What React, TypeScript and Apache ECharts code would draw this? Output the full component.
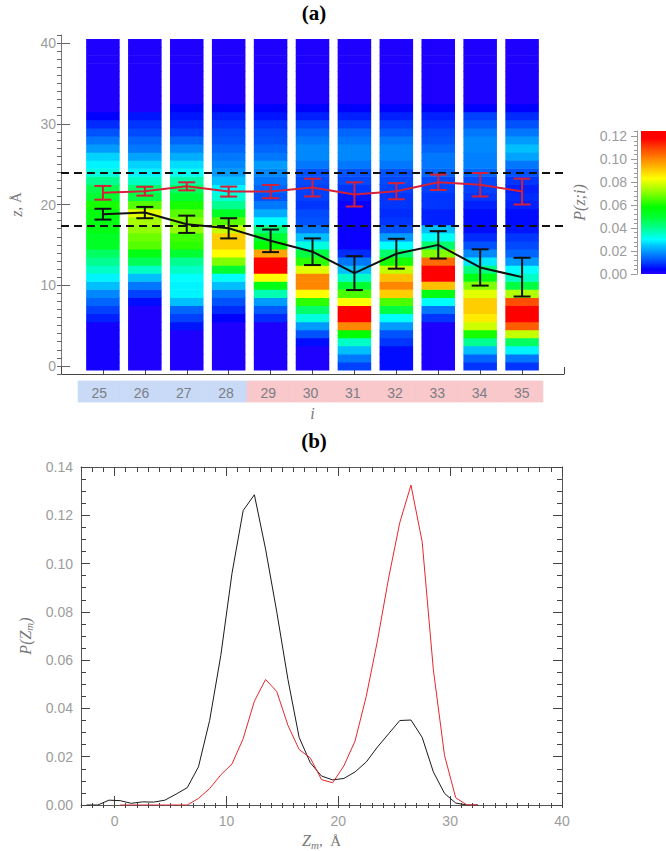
import React, { useEffect, useRef } from 'react';
import * as echarts from 'echarts';

// ---------- data ----------
const COLS = [25, 26, 27, 28, 29, 30, 31, 32, 33, 34, 35];
const BLUE_GROUP = [25, 26, 27, 28];

// P(z;i) for z = 0..40 Å (array index = z)
const P25 = [0.002, 0.002, 0.002, 0.002, 0.002, 0.002, 0.007, 0.01, 0.014, 0.018, 0.024, 0.029, 0.035, 0.04, 0.045, 0.052, 0.052, 0.055, 0.055, 0.056, 0.06, 0.05, 0.047, 0.04, 0.033, 0.029, 0.026, 0.02, 0.016, 0.012, 0.008, 0.004, 0.001, 0.001, 0.001, 0.001, 0.001, 0.001, 0.001, 0.001, 0.001];
const P26 = [0.001, 0.001, 0.001, 0.001, 0.001, 0.001, 0.001, 0.001, 0.005, 0.01, 0.016, 0.024, 0.035, 0.046, 0.055, 0.066, 0.068, 0.072, 0.074, 0.08, 0.066, 0.048, 0.044, 0.035, 0.029, 0.026, 0.021, 0.016, 0.014, 0.011, 0.009, 0.006, 0.001, 0.001, 0.001, 0.001, 0.001, 0.001, 0.001, 0.001, 0.001];
const P27 = [0.001, 0.001, 0.001, 0.001, 0.001, 0.006, 0.01, 0.014, 0.024, 0.029, 0.029, 0.03, 0.035, 0.04, 0.05, 0.062, 0.064, 0.072, 0.07, 0.066, 0.06, 0.05, 0.045, 0.038, 0.031, 0.027, 0.022, 0.018, 0.014, 0.01, 0.008, 0.006, 0.004, 0.001, 0.001, 0.001, 0.001, 0.001, 0.001, 0.001, 0.001];
const P28 = [0.001, 0.001, 0.001, 0.001, 0.001, 0.001, 0.004, 0.008, 0.012, 0.016, 0.024, 0.03, 0.05, 0.07, 0.083, 0.09, 0.09, 0.077, 0.066, 0.052, 0.04, 0.034, 0.029, 0.024, 0.02, 0.018, 0.016, 0.014, 0.012, 0.011, 0.009, 0.007, 0.004, 0.001, 0.001, 0.001, 0.001, 0.001, 0.001, 0.001, 0.001];
const P29 = [0.001, 0.001, 0.001, 0.001, 0.001, 0.001, 0.008, 0.013, 0.02, 0.037, 0.055, 0.083, 0.12, 0.12, 0.096, 0.058, 0.05, 0.042, 0.03, 0.022, 0.016, 0.012, 0.014, 0.016, 0.018, 0.02, 0.016, 0.014, 0.012, 0.011, 0.009, 0.006, 0.004, 0.001, 0.001, 0.001, 0.001, 0.001, 0.001, 0.001, 0.001];
const P30 = [0.001, 0.001, 0.001, 0.005, 0.012, 0.02, 0.033, 0.044, 0.062, 0.083, 0.1, 0.1, 0.08, 0.062, 0.048, 0.033, 0.024, 0.016, 0.012, 0.011, 0.009, 0.01, 0.01, 0.011, 0.012, 0.016, 0.018, 0.018, 0.016, 0.014, 0.011, 0.007, 0.004, 0.001, 0.001, 0.001, 0.001, 0.001, 0.001, 0.001, 0.001];
const P31 = [0.01, 0.016, 0.024, 0.035, 0.058, 0.1, 0.12, 0.12, 0.083, 0.065, 0.05, 0.035, 0.024, 0.016, 0.008, 0.003, 0.003, 0.003, 0.003, 0.003, 0.003, 0.006, 0.009, 0.011, 0.012, 0.016, 0.018, 0.018, 0.016, 0.014, 0.01, 0.007, 0.004, 0.001, 0.001, 0.001, 0.001, 0.001, 0.001, 0.001, 0.001];
const P32 = [0.005, 0.005, 0.005, 0.009, 0.012, 0.02, 0.03, 0.048, 0.065, 0.09, 0.1, 0.092, 0.077, 0.06, 0.044, 0.03, 0.02, 0.012, 0.009, 0.008, 0.009, 0.009, 0.01, 0.011, 0.012, 0.016, 0.018, 0.018, 0.016, 0.013, 0.01, 0.007, 0.004, 0.001, 0.001, 0.001, 0.001, 0.001, 0.001, 0.001, 0.001];
const P33 = [0.001, 0.001, 0.001, 0.001, 0.001, 0.001, 0.009, 0.016, 0.03, 0.055, 0.092, 0.12, 0.12, 0.104, 0.07, 0.044, 0.031, 0.024, 0.007, 0.007, 0.009, 0.009, 0.01, 0.011, 0.014, 0.016, 0.016, 0.014, 0.012, 0.011, 0.009, 0.007, 0.004, 0.001, 0.001, 0.001, 0.001, 0.001, 0.001, 0.001, 0.001];
const P34 = [0.009, 0.014, 0.024, 0.04, 0.06, 0.078, 0.086, 0.09, 0.09, 0.08, 0.07, 0.055, 0.042, 0.028, 0.018, 0.012, 0.008, 0.005, 0.005, 0.005, 0.007, 0.009, 0.01, 0.011, 0.014, 0.017, 0.017, 0.018, 0.018, 0.016, 0.013, 0.01, 0.004, 0.001, 0.001, 0.001, 0.001, 0.001, 0.001, 0.001, 0.001];
const P35 = [0.009, 0.016, 0.029, 0.045, 0.077, 0.106, 0.12, 0.12, 0.108, 0.075, 0.048, 0.035, 0.03, 0.02, 0.014, 0.011, 0.009, 0.006, 0.005, 0.005, 0.007, 0.008, 0.007, 0.009, 0.012, 0.016, 0.021, 0.024, 0.02, 0.016, 0.012, 0.008, 0.004, 0.001, 0.001, 0.001, 0.001, 0.001, 0.001, 0.001, 0.001];
const HEAT = [P25, P26, P27, P28, P29, P30, P31, P32, P33, P34, P35];

const RED_MEAN = [21.45, 21.65, 22.25, 21.6, 21.6, 22.1, 21.25, 21.65, 22.75, 22.45, 21.6];
const RED_SD = [0.85, 0.55, 0.5, 0.62, 0.82, 1.1, 1.5, 1.0, 0.95, 1.45, 1.6];
const BLACK_MEAN = [18.8, 19.0, 17.55, 17.05, 15.5, 14.15, 11.5, 13.9, 15.0, 12.2, 11.0];
const BLACK_SD = [0.67, 0.7, 1.07, 1.25, 1.4, 1.65, 2.1, 1.85, 1.7, 2.25, 2.4];
const DASH_Z = [23.9, 17.35];

const TOP_Y_TICKS = [0, 10, 20, 30, 40];
const BOTTOM_X_TICKS = [0, 10, 20, 30, 40];
const CBAR_TICKS = [0, 0.02, 0.04, 0.06, 0.08, 0.1, 0.12];
const CBAR_RANGE = [0, 0.1245];

const ZM_BLACK = [-2.5, -1.5, -0.5, 0.5, 1.5, 2.5, 3.5, 4.5, 5.5, 6.5, 7.5, 8.5, 9.5, 10.5, 11.5, 12.5, 13.5, 14.5, 15.5, 16.5, 17.5, 18.5, 19.5, 20.5, 21.5, 22.5, 23.5, 24.5, 25.5, 26.5, 27.5, 28.5, 29.5, 30.5, 31.5, 32.5];
const P_BLACK = [0, 0, 0.002, 0.0018, 0.0007, 0.0013, 0.0012, 0.002, 0.0045, 0.0072, 0.0158, 0.035, 0.062, 0.096, 0.122, 0.1285, 0.106, 0.08, 0.052, 0.028, 0.0175, 0.012, 0.0104, 0.011, 0.0137, 0.0178, 0.024, 0.0295, 0.035, 0.0352, 0.028, 0.0137, 0.0048, 0.0008, 0, 0];
const ZM_RED = [0.5, 1.5, 2.5, 3.5, 4.5, 5.5, 6.5, 7.5, 8.5, 9.5, 10.5, 11.5, 12.5, 13.5, 14.5, 15.5, 16.5, 17.5, 18.5, 19.5, 20.5, 21.5, 22.5, 23.5, 24.5, 25.5, 26.5, 27.5, 28.5, 29.5, 30.5, 31.5, 32.5];
const P_RED = [0, 0, 0, 0, 0, 0, 0, 0.0027, 0.0068, 0.0125, 0.017, 0.0275, 0.043, 0.052, 0.047, 0.033, 0.023, 0.0195, 0.0105, 0.0092, 0.0162, 0.0265, 0.045, 0.068, 0.094, 0.117, 0.1325, 0.109, 0.056, 0.0205, 0.003, 0, 0];

// colour table (value -> colour)
const CMAP: [number, string][] = [
  [0, '#2800ff'], [0.004, '#0000ff'], [0.01, '#0040ff'], [0.017, '#0080ff'],
  [0.025, '#00c8ff'], [0.03, '#00ffff'], [0.04, '#00ff90'], [0.05, '#00ff30'],
  [0.058, '#00ff00'], [0.07, '#80ff00'], [0.083, '#ffff00'], [0.092, '#ffc000'],
  [0.101, '#ff8000'], [0.11, '#ff4000'], [0.118, '#ff0000'], [0.13, '#ff0000'],
];

function hexToRgb(h: string) {
  return [parseInt(h.slice(1, 3), 16), parseInt(h.slice(3, 5), 16), parseInt(h.slice(5, 7), 16)];
}
function cmap(v: number): string {
  if (v <= CMAP[0][0]) return CMAP[0][1];
  for (let i = 1; i < CMAP.length; i++) {
    if (v <= CMAP[i][0]) {
      const t = (v - CMAP[i - 1][0]) / (CMAP[i][0] - CMAP[i - 1][0]);
      const a = hexToRgb(CMAP[i - 1][1]);
      const b = hexToRgb(CMAP[i][1]);
      const c = a.map((x, j) => Math.round(x + (b[j] - x) * t));
      return `rgb(${c[0]},${c[1]},${c[2]})`;
    }
  }
  return CMAP[CMAP.length - 1][1];
}

const GRAY = '#9c9c9c';
const NAME_GRAY = '#777';
const TICK = '#444';
const labelStyle = { color: GRAY, fontSize: 14, fontFamily: 'Liberation Sans' };
const HALF_W = 0.4;
const RED = '#d42038';

function errRender(color: string) {
  return (params: any, api: any) => {
    const x = api.value(0), m = api.value(1), e = api.value(2);
    const t = api.coord([x, m + e]);
    const b = api.coord([x, m - e]);
    const cap = 8.5;
    const st = { stroke: color, lineWidth: 2 };
    return {
      type: 'group',
      children: [
        { type: 'line', shape: { x1: t[0], y1: t[1], x2: b[0], y2: b[1] }, style: st },
        { type: 'line', shape: { x1: t[0] - cap, y1: t[1], x2: t[0] + cap, y2: t[1] }, style: st },
        { type: 'line', shape: { x1: b[0] - cap, y1: b[1], x2: b[0] + cap, y2: b[1] }, style: st },
      ],
    };
  };
}

export default function App() {
  const ref = useRef<HTMLDivElement>(null);
  useEffect(() => {
    if (!ref.current) return;
    const chart = echarts.init(ref.current, undefined, { renderer: 'svg' });

    const heatData: number[][] = [];
    COLS.forEach((c, i) => HEAT[i].forEach((v, k) => heatData.push([c, k, v])));

    const cbarStops = CMAP.map(([v, col]) => ({
      offset: Math.min(1, Math.max(0, (v - CBAR_RANGE[0]) / (CBAR_RANGE[1] - CBAR_RANGE[0]))),
      color: col,
    }));

    const serifName = { fontFamily: 'Liberation Serif', fontStyle: 'italic', fontSize: 16, color: NAME_GRAY };
    const noZero = { onZero: false };
    const hidden = (gridIndex: number, min: number, max: number) => ({ gridIndex, type: 'value', min, max, show: false, axisLine: noZero });

    const option: any = {
      animation: false,
      backgroundColor: '#fff',
      title: [
        { text: '(a)', left: 309, top: -3, textAlign: 'center', textStyle: { fontFamily: 'Liberation Serif', fontWeight: 'bold', fontSize: 21, color: '#000' } },
        { text: '(b)', left: 309, top: 425, textAlign: 'center', textStyle: { fontFamily: 'Liberation Serif', fontWeight: 'bold', fontSize: 21, color: '#000' } },
      ],
      grid: [
        { left: 57, top: 35, width: 507, height: 339 },   // 0 heat
        { left: 57, top: 381, width: 507, height: 21 },   // 1 band
        { left: 81, top: 467, width: 481, height: 341 },  // 2 profiles
        { left: 641, top: 131, width: 40, height: 143 },  // 3 colorbar
        { left: 81, top: 467, width: 481, height: 341 },  // 4 profiles minor x ticks
        { left: 57, top: 35, width: 507, height: 339 },   // 5 heat minor y ticks
      ],
      xAxis: [
        {
          gridIndex: 0, type: 'value', min: 24, max: 36, interval: 1, position: 'bottom',
          axisLine: { show: true, ...noZero, lineStyle: { color: '#444', width: 1 } },
          axisTick: { show: true, inside: true, length: 7, lineStyle: { color: '#444' } },
          axisLabel: { show: false }, splitLine: { show: false },
          name: 'i', nameLocation: 'middle', nameGap: 31, nameTextStyle: serifName,
        },
        hidden(1, 24, 36),
        {
          gridIndex: 2, type: 'value', min: -3, max: 40, position: 'bottom',
          axisLine: { show: true, ...noZero, lineStyle: { color: '#555' } },
          axisTick: { show: true, inside: true, length: 9, customValues: BOTTOM_X_TICKS, lineStyle: { color: TICK } },
          axisLabel: { show: true, customValues: BOTTOM_X_TICKS, margin: 9, ...labelStyle },
          splitLine: { show: false },
          name: '{i|Z}{s|m}{n|,  Å}', nameLocation: 'middle', nameGap: 26,
          nameTextStyle: {
            rich: {
              i: { ...serifName },
              s: { fontFamily: 'Liberation Serif', fontStyle: 'italic', fontSize: 11, color: NAME_GRAY, verticalAlign: 'bottom', padding: [8, 0, 0, 0] },
              n: { fontFamily: 'Liberation Serif', fontSize: 15, color: NAME_GRAY },
            },
          },
        },
        {
          gridIndex: 2, type: 'value', min: -3, max: 40, position: 'top',
          axisLine: { show: true, ...noZero, lineStyle: { color: '#555' } },
          axisTick: { show: true, inside: true, length: 9, customValues: BOTTOM_X_TICKS, lineStyle: { color: TICK } },
          axisLabel: { show: false }, splitLine: { show: false },
        },
        hidden(3, 0, 1),
        {
          gridIndex: 4, type: 'value', min: -3, max: 40, interval: 1, position: 'bottom',
          axisLine: { show: false, ...noZero },
          axisTick: { show: true, inside: true, length: 5, lineStyle: { color: TICK } },
          axisLabel: { show: false }, splitLine: { show: false },
        },
        {
          gridIndex: 4, type: 'value', min: -3, max: 40, interval: 1, position: 'top',
          axisLine: { show: false, ...noZero },
          axisTick: { show: true, inside: true, length: 5, lineStyle: { color: TICK } },
          axisLabel: { show: false }, splitLine: { show: false },
        },
        hidden(5, 24, 36),
      ],
      yAxis: [
        {
          gridIndex: 0, type: 'value', min: -1, max: 41, position: 'left',
          axisLine: { show: true, ...noZero, lineStyle: { color: '#777', width: 1 } },
          axisTick: { show: true, inside: true, length: 9, customValues: TOP_Y_TICKS, lineStyle: { color: '#666' } },
          axisLabel: { show: true, customValues: TOP_Y_TICKS, margin: 5, ...labelStyle },
          splitLine: { show: false },
          name: '{i|z}{n|, Å}', nameLocation: 'middle', nameGap: 37, nameRotate: 90,
          nameTextStyle: {
            rich: {
              i: { ...serifName },
              n: { fontFamily: 'Liberation Serif', fontSize: 15, color: NAME_GRAY },
            },
          },
        },
        hidden(1, 0, 1),
        {
          gridIndex: 2, type: 'value', min: 0, max: 0.14, interval: 0.02, position: 'left',
          axisLine: { show: true, ...noZero, lineStyle: { color: '#555' } },
          axisTick: { show: true, inside: true, length: 9, lineStyle: { color: TICK } },
          minorTick: { show: true, splitNumber: 4, length: 5, lineStyle: { color: TICK } },
          axisLabel: { show: true, margin: 8, formatter: (v: number) => v.toFixed(2), ...labelStyle },
          splitLine: { show: false },
          name: '{i|P(Z}{s|m}{i|)}', nameLocation: 'middle', nameGap: 45, nameRotate: 90,
          nameTextStyle: {
            rich: {
              i: { ...serifName },
              s: { fontFamily: 'Liberation Serif', fontStyle: 'italic', fontSize: 11, color: NAME_GRAY, verticalAlign: 'bottom', padding: [8, 0, 0, 0] },
            },
          },
        },
        {
          gridIndex: 2, type: 'value', min: 0, max: 0.14, interval: 0.02, position: 'right',
          axisLine: { show: true, ...noZero, lineStyle: { color: '#555' } },
          axisTick: { show: true, inside: true, length: 9, lineStyle: { color: TICK } },
          minorTick: { show: true, splitNumber: 4, length: 5, lineStyle: { color: TICK } },
          axisLabel: { show: false }, splitLine: { show: false },
        },
        {
          gridIndex: 3, type: 'value', min: CBAR_RANGE[0], max: CBAR_RANGE[1], position: 'left', offset: 4,
          axisLine: { show: true, ...noZero, lineStyle: { color: '#999' } },
          axisTick: { show: true, inside: false, length: 6, customValues: CBAR_TICKS, lineStyle: { color: '#999' } },
          axisLabel: { show: true, customValues: CBAR_TICKS, margin: 10, formatter: (v: number) => v.toFixed(2), ...labelStyle },
          splitLine: { show: false },
          name: 'P(z;i)', nameLocation: 'middle', nameGap: 50, nameRotate: 90, nameTextStyle: serifName,
        },
        {
          gridIndex: 3, type: 'value', min: CBAR_RANGE[0], max: CBAR_RANGE[1], interval: 0.004, position: 'left', offset: 4,
          axisLine: { show: false, ...noZero },
          axisTick: { show: true, inside: false, length: 3, lineStyle: { color: '#999' } },
          axisLabel: { show: false }, splitLine: { show: false },
        },
        hidden(4, 0, 1),
        {
          gridIndex: 5, type: 'value', min: -1, max: 41, interval: 1, position: 'left',
          axisLine: { show: false, ...noZero },
          axisTick: { show: true, inside: true, length: 5, lineStyle: { color: '#666' } },
          axisLabel: { show: false }, splitLine: { show: false },
        },
      ],
      series: [
        {
          type: 'custom', name: 'heat', xAxisIndex: 0, yAxisIndex: 0, z: 2, silent: true,
          data: heatData,
          renderItem: (params: any, api: any) => {
            const x = api.value(0), zz = api.value(1), v = api.value(2);
            const a = api.coord([x - HALF_W, zz + 0.5]);
            const b = api.coord([x + HALF_W, zz - 0.5]);
            return {
              type: 'rect',
              shape: { x: a[0], y: a[1], width: b[0] - a[0], height: b[1] - a[1] + 0.6 },
              style: { fill: cmap(v) },
            };
          },
        },
        ...DASH_Z.map((zv) => ({
          type: 'line', xAxisIndex: 0, yAxisIndex: 0, z: 3, silent: true,
          data: [[24, zv], [36, zv]], symbol: 'none',
          lineStyle: { color: '#111', width: 2, type: [8, 5] },
        })),
        {
          type: 'line', name: 'black mean', xAxisIndex: 0, yAxisIndex: 0, z: 4,
          data: COLS.map((c, i) => [c, BLACK_MEAN[i]]), symbol: 'none',
          lineStyle: { color: '#111', width: 2 },
        },
        {
          type: 'custom', name: 'black err', xAxisIndex: 0, yAxisIndex: 0, z: 5,
          data: COLS.map((c, i) => [c, BLACK_MEAN[i], BLACK_SD[i]]),
          renderItem: errRender('#111'),
        },
        {
          type: 'line', name: 'red mean', xAxisIndex: 0, yAxisIndex: 0, z: 4,
          data: COLS.map((c, i) => [c, RED_MEAN[i]]), symbol: 'none',
          lineStyle: { color: RED, width: 2 },
        },
        {
          type: 'custom', name: 'red err', xAxisIndex: 0, yAxisIndex: 0, z: 5,
          data: COLS.map((c, i) => [c, RED_MEAN[i], RED_SD[i]]),
          renderItem: errRender(RED),
        },
        {
          type: 'custom', name: 'band', xAxisIndex: 1, yAxisIndex: 1, silent: true,
          data: COLS.map((c) => [c, BLUE_GROUP.includes(c) ? 0 : 1]),
          renderItem: (params: any, api: any) => {
            const c = api.value(0), g = api.value(1);
            const a = api.coord([c - 0.5, 1]);
            const b = api.coord([c + 0.5, 0]);
            const col = g === 0 ? '#c8daf6' : '#f8c8cb';
            return {
              type: 'group',
              children: [
                { type: 'rect', shape: { x: a[0], y: a[1], width: b[0] - a[0], height: b[1] - a[1] }, style: { fill: col, stroke: col, lineWidth: 0.8 } },
                { type: 'text', x: (a[0] + b[0]) / 2, y: (a[1] + b[1]) / 2 + 1, style: { text: String(c), fill: '#7d7d85', font: '14px "Liberation Sans"', align: 'center', verticalAlign: 'middle' } },
              ],
            };
          },
        },
        {
          type: 'line', name: 'P black', xAxisIndex: 2, yAxisIndex: 2,
          data: ZM_BLACK.map((x, i) => [x, P_BLACK[i]]), symbol: 'none',
          lineStyle: { color: '#1a1a1a', width: 1 },
        },
        {
          type: 'line', name: 'P red', xAxisIndex: 2, yAxisIndex: 2,
          data: ZM_RED.map((x, i) => [x, P_RED[i]]), symbol: 'none',
          lineStyle: { color: '#e8262c', width: 1 },
        },
        {
          type: 'custom', name: 'colorbar', xAxisIndex: 4, yAxisIndex: 4, silent: true,
          data: [[0, CBAR_RANGE[0], 1, CBAR_RANGE[1]]],
          renderItem: (params: any, api: any) => {
            const a = api.coord([api.value(0), api.value(3)]);
            const b = api.coord([api.value(2), api.value(1)]);
            return {
              type: 'rect',
              shape: { x: a[0], y: a[1], width: b[0] - a[0], height: b[1] - a[1] },
              style: { fill: new echarts.graphic.LinearGradient(0, 1, 0, 0, cbarStops) },
            };
          },
        },
      ],
    };
    chart.setOption(option);
    return () => chart.dispose();
  }, []);
  return <div ref={ref} style={{ position: 'fixed', left: 0, top: 0, width: 666, height: 851 }} />;
}
